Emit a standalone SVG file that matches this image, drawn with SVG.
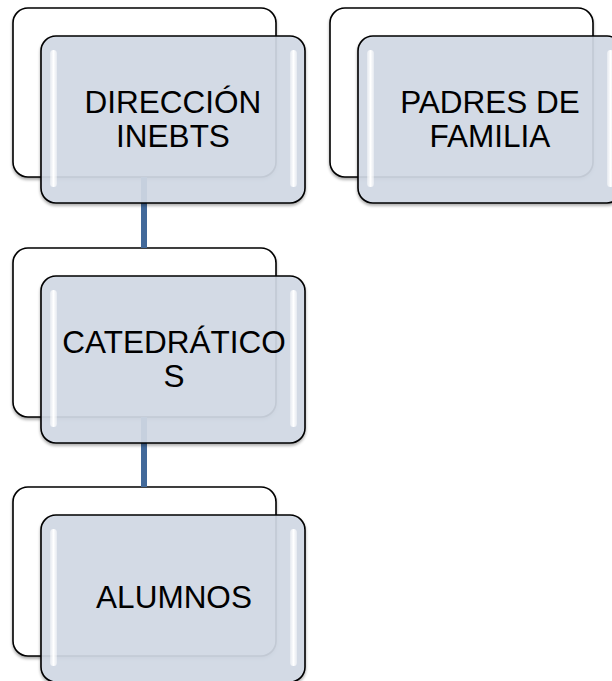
<svg xmlns="http://www.w3.org/2000/svg" width="612" height="681" viewBox="0 0 612 681">
  <defs>
    <filter id="sh" x="-10%" y="-10%" width="120%" height="125%">
      <feGaussianBlur in="SourceAlpha" stdDeviation="1.5"/>
      <feOffset dx="0" dy="2" result="b"/>
      <feComponentTransfer><feFuncA type="linear" slope="0.35"/></feComponentTransfer>
      <feMerge><feMergeNode/><feMergeNode in="SourceGraphic"/></feMerge>
    </filter>
    <linearGradient id="hl" x1="0" y1="0" x2="1" y2="0">
      <stop offset="0" stop-color="#ffffff" stop-opacity="0.4"/>
      <stop offset="0.5" stop-color="#ffffff" stop-opacity="1"/>
      <stop offset="1" stop-color="#ffffff" stop-opacity="0.4"/>
    </linearGradient>
  </defs>
  <style>
    .back { fill: #ffffff; stroke: #000000; stroke-width: 1.6; }
    .front { fill: #d3dae7; fill-opacity: 0.9; stroke: #000000; stroke-width: 1.6; }
    .hl { fill: url(#hl); }
    .conn { stroke: #42699a; stroke-width: 6; fill: none; }
    .t { font-family: "Liberation Sans", Arial, sans-serif; font-size: 31.5px; fill: #000000; text-anchor: middle; }
  </style>
  <rect width="612" height="681" fill="#ffffff"/>

  <g id="back-shapes">
    <rect class="back" x="13" y="8" width="263" height="169" rx="15" filter="url(#sh)"/>
    <rect class="back" x="330" y="8" width="263" height="169" rx="15" filter="url(#sh)"/>
    <rect class="back" x="13" y="248" width="263" height="169" rx="15" filter="url(#sh)"/>
    <rect class="back" x="13" y="487" width="263" height="169" rx="15" filter="url(#sh)"/>
  </g>

  <g id="connectors">
    <line class="conn" x1="144" y1="177" x2="144" y2="248"/>
    <line class="conn" x1="144" y1="417" x2="144" y2="487"/>
  </g>

  <g id="node-direccion">
    <rect class="front" x="41" y="36" width="264" height="167" rx="15" filter="url(#sh)"/>
    <rect class="hl" x="50" y="50" width="7" height="137" rx="3.5"/>
    <rect class="hl" x="290" y="50" width="7" height="137" rx="3.5"/>
    <text class="t" x="173" y="113">DIRECCIÓN</text>
    <text class="t" x="173" y="147">INEBTS</text>
  </g>

  <g id="node-padres">
    <rect class="front" x="358" y="36" width="264" height="167" rx="15" filter="url(#sh)"/>
    <rect class="hl" x="367" y="50" width="7" height="137" rx="3.5"/>
    <rect class="hl" x="607" y="50" width="7" height="137" rx="3.5"/>
    <text class="t" x="490" y="113">PADRES DE</text>
    <text class="t" x="490" y="147">FAMILIA</text>
  </g>

  <g id="node-catedraticos">
    <rect class="front" x="41" y="276" width="264" height="167" rx="15" filter="url(#sh)"/>
    <rect class="hl" x="50" y="290" width="7" height="137" rx="3.5"/>
    <rect class="hl" x="290" y="290" width="7" height="137" rx="3.5"/>
    <text class="t" x="174" y="353">CATEDRÁTICO</text>
    <text class="t" x="174" y="387">S</text>
  </g>

  <g id="node-alumnos">
    <rect class="front" x="41" y="515" width="264" height="167" rx="15" filter="url(#sh)"/>
    <rect class="hl" x="50" y="529" width="7" height="137" rx="3.5"/>
    <rect class="hl" x="290" y="529" width="7" height="137" rx="3.5"/>
    <text class="t" x="174" y="608">ALUMNOS</text>
  </g>
</svg>
